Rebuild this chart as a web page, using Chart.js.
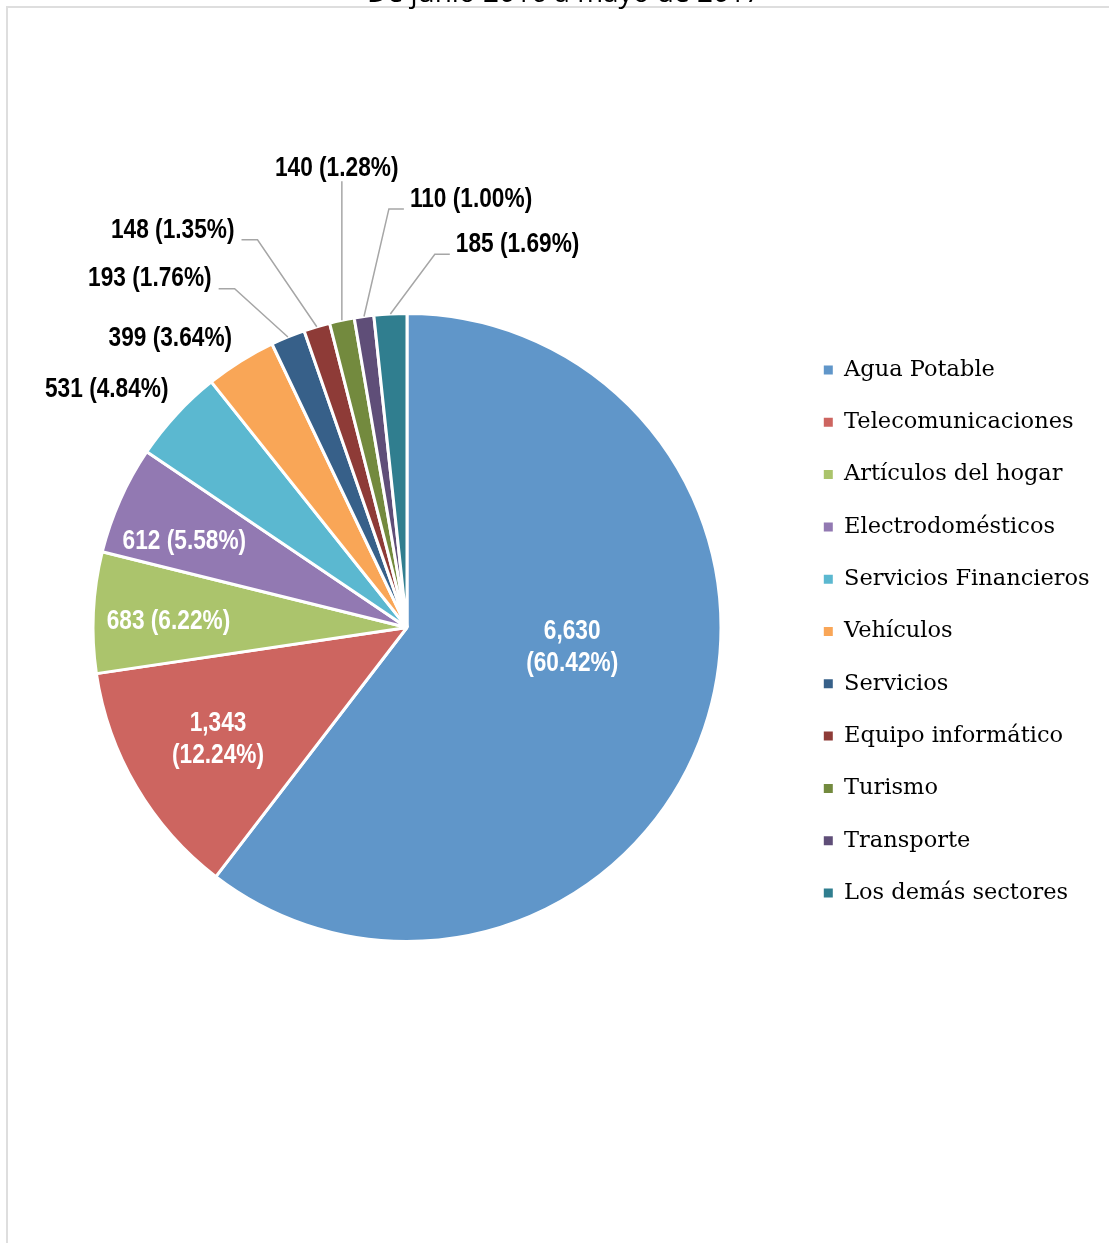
<!DOCTYPE html>
<html>
<head>
<meta charset="utf-8">
<script src="https://cdn.jsdelivr.net/npm/chart.js@4.4.0/dist/chart.umd.min.js"></script>
<style>
  html, body { margin: 0; padding: 0; background: #fff; overflow: hidden; }
  #frame { position: absolute; left: 6px; top: 6px; width: 1300px; height: 1400px; border: 2px solid #dedede; }
  #wrap { position: absolute; left: 0; top: 0; width: 1109px; height: 1243px; }
</style>
</head>
<body>
<div id="frame"></div>
<div id="wrap"><canvas id="pie-chart"></canvas></div>
<script>
// Data
const titleText = "De junio 2016 a mayo de 2017";
const sectors = [
  "Agua Potable", "Telecomunicaciones", "Artículos del hogar", "Electrodomésticos",
  "Servicios Financieros", "Vehículos", "Servicios", "Equipo informático",
  "Turismo", "Transporte", "Los demás sectores"
];
const complaints = [6630, 1343, 683, 612, 531, 399, 193, 148, 140, 110, 185];
const sectorColors = [
  "#6096C9", "#CD6560", "#ABC46C", "#9279B2", "#5BB8D0", "#F9A657",
  "#376089", "#8E3B37", "#738A3E", "#5F4E78", "#307E8F"
];

// label placement: angle (deg, clockwise from 3 o'clock) and distance in radii
const labelAngle = [6.9, 149.3, 181.4, 201.1, 218.4, 230.7, 233.6, 239.5, 261.3, 278.5, 286.1];
const labelRadius = [0.53, 0.70, 0.76, 0.76, 1.22, 1.19, 1.38, 1.47, 1.48, 1.38, 1.27];
const labelLeader = ["", "", "", "", "", "", "left", "left", "below", "right", "right"];

// Arial Narrow look-alike: bold Liberation Sans squeezed horizontally
const labelFont = "bold 28px 'Liberation Sans', Arial, sans-serif";
const labelSqueeze = 0.81;
const legendFontSize = 22.5;
const legendPadding = 29.8;

// work out right padding so the legend sits where it should
const measure = document.createElement("canvas").getContext("2d");
measure.font = legendFontSize + "px 'DejaVu Serif'";
const longest = Math.max(...sectors.map((s) => measure.measureText(s).width));
const legendWidth = legendPadding + 9 + legendFontSize / 2 + longest + 10;
const padRight = Math.max(0, 1109 - 20 - 774 - legendWidth);

const total = complaints.reduce((a, b) => a + b, 0);

function squeezedText(ctx, text, x, y) {
  ctx.save();
  ctx.translate(x, y);
  ctx.scale(labelSqueeze, 1);
  ctx.fillText(text, 0, 0);
  ctx.restore();
}

// legend sits a few pixels lower than the pie centre
const legendNudge = {
  id: "legendNudge",
  afterLayout(chart) {
    chart.legend.top += 4;
    chart.legend.bottom += 4;
  },
};

const pieLabels = {
  id: "pieLabels",
  afterDatasetsDraw(chart) {
    const ctx = chart.ctx;
    const arcs = chart.getDatasetMeta(0).data;
    ctx.save();
    ctx.font = labelFont;
    ctx.textAlign = "center";
    ctx.textBaseline = "middle";
    arcs.forEach((arc, i) => {
      const p = arc.getProps(["x", "y", "startAngle", "endAngle", "outerRadius"], true);
      const value = complaints[i].toLocaleString("en-US");
      const pct = "(" + ((complaints[i] / total) * 100).toFixed(2) + "%)";
      const a = (labelAngle[i] * Math.PI) / 180;
      const lx = p.x + Math.cos(a) * p.outerRadius * labelRadius[i];
      const ly = p.y + Math.sin(a) * p.outerRadius * labelRadius[i];
      ctx.fillStyle = labelRadius[i] < 1 ? "#fff" : "#000";
      const text = value + " " + pct;
      if (complaints[i] > 1000) {
        squeezedText(ctx, value, lx, ly - 16);
        squeezedText(ctx, pct, lx, ly + 16);
      } else {
        squeezedText(ctx, text, lx, ly);
      }
      const leader = labelLeader[i];
      if (leader) {
        const mid = (p.startAngle + p.endAngle) / 2;
        const ex = p.x + Math.cos(mid) * p.outerRadius;
        const ey = p.y + Math.sin(mid) * p.outerRadius;
        const w = ctx.measureText(text).width * labelSqueeze;
        ctx.strokeStyle = "#a6a6a6";
        ctx.lineWidth = 1.5;
        ctx.beginPath();
        if (leader === "left") {
          const hx = lx + w / 2 + 7;
          ctx.moveTo(hx, ly + 10);
          ctx.lineTo(hx + 16, ly + 10);
          ctx.lineTo(ex, ey);
        } else if (leader === "right") {
          const hx = lx - w / 2 - 6;
          ctx.moveTo(hx, ly + 10);
          ctx.lineTo(hx - 15, ly + 10);
          ctx.lineTo(ex, ey);
        } else {
          ctx.moveTo(ex, ly + 13);
          ctx.lineTo(ex, ey);
        }
        ctx.stroke();
      }
    });
    // title sits mostly above the visible area
    ctx.fillStyle = "#000";
    ctx.font = "28px 'Open Sans', sans-serif";
    ctx.textBaseline = "alphabetic";
    ctx.fillText(titleText, 564, 2);
    ctx.restore();
  },
};

const pieChart = document.getElementById("pie-chart");
const pieChartContext = pieChart.getContext("2d");

new Chart(pieChartContext, {
  type: "pie",
  data: {
    labels: sectors,
    datasets: [
      {
        data: complaints,
        backgroundColor: sectorColors,
        borderColor: "#fff",
        borderWidth: 3,
      },
    ],
  },
  options: {
    responsive: true,
    maintainAspectRatio: false,
    animation: false,
    layout: {
      padding: { top: 312, bottom: 300, left: 20, right: padRight },
    },
    plugins: {
      tooltip: { enabled: false },
      legend: {
        position: "right",
        labels: {
          boxWidth: 9,
          boxHeight: 9,
          padding: legendPadding,
          color: "#000",
          font: { family: "'DejaVu Serif', serif", size: legendFontSize },
          generateLabels: () =>
            sectors.map((s, i) => ({
              text: s,
              fillStyle: sectorColors[i],
              strokeStyle: sectorColors[i],
              lineWidth: 0,
              hidden: false,
              index: i,
              fontColor: "#000",
            })),
        },
      },
    },
  },
  plugins: [legendNudge, pieLabels],
});
</script>
</body>
</html>
